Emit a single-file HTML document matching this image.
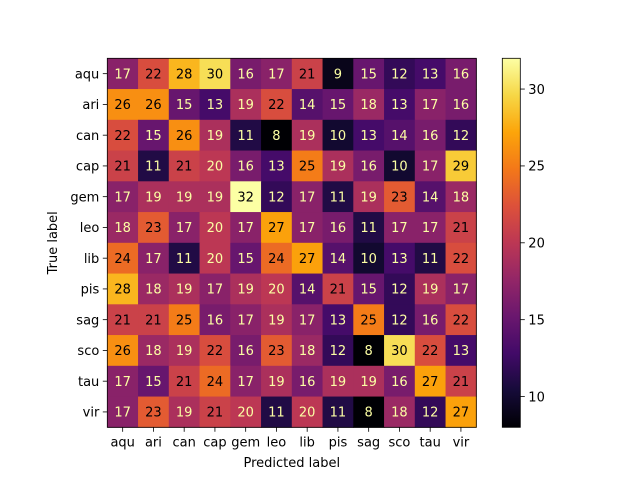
<!DOCTYPE html>
<html><head><meta charset="utf-8"><style>
body{margin:0;background:#fff;}
svg{display:block;font-family:"DejaVu Sans","Liberation Sans",sans-serif;}
</style></head><body>
<svg id="chart" width="640" height="480" xmlns="http://www.w3.org/2000/svg">
<defs><linearGradient id="cbg" x1="0" y1="1" x2="0" y2="0"></linearGradient></defs>
</svg>
<script>
const labels=["aqu","ari","can","cap","gem","leo","lib","pis","sag","sco","tau","vir"];
const values=[
[17,22,28,30,16,17,21,9,15,12,13,16],
[26,26,15,13,19,22,14,15,18,13,17,16],
[22,15,26,19,11,8,19,10,13,14,16,12],
[21,11,21,20,16,13,25,19,16,10,17,29],
[17,19,19,19,32,12,17,11,19,23,14,18],
[18,23,17,20,17,27,17,16,11,17,17,21],
[24,17,11,20,15,24,27,14,10,13,11,22],
[28,18,19,17,19,20,14,21,15,12,19,17],
[21,21,25,16,17,19,17,13,25,12,16,22],
[26,18,19,22,16,23,18,12,8,30,22,13],
[17,15,21,24,17,19,16,19,19,16,27,21],
[17,23,19,21,20,11,20,11,8,18,12,27]];
const cbTicks=[10,15,20,25,30];
const stops=["#000004","#160b39","#420a68","#6a176e","#932667","#bc3754","#dd513a","#f37819","#fca50a","#f6d746","#fcffa4"];
const NS="http://www.w3.org/2000/svg";
const svg=document.getElementById('chart');
function hex(h){return [1,3,5].map(i=>parseInt(h.substr(i,2),16));}
function cmap(t){t=Math.max(0,Math.min(1,t));const f=t*10,i=Math.min(9,Math.floor(f)),r=f-i;
const a=hex(stops[i]),b=hex(stops[i+1]);return `rgb(${a.map((v,k)=>Math.round(v+(b[k]-v)*r)).join(',')})`;}
const flat=values.flat(),vmin=Math.min(...flat),vmax=Math.max(...flat);
const X0=107.3,Y0=58.3,C=30.75,N=labels.length;
const xs=i=>X0+i*C, ys=i=>Y0+i*C;
function el(tag,attrs,parent){const e=document.createElementNS(NS,tag);for(const k in attrs)e.setAttribute(k,attrs[k]);(parent||svg).appendChild(e);return e;}
const g=el('g',{});


const thresh=(vmin+vmax)/2;
values.forEach((row,r)=>row.forEach((v,c)=>{
 const rc=el('rect',{x:xs(c),y:ys(r),width:C+0.5,height:C+0.5,fill:cmap((v-vmin)/(vmax-vmin))},g);
 
 
 const t=el('text',{x:xs(c)+C/2,y:ys(r)+C/2+4.7,'text-anchor':'middle','font-size':'13',fill:v>thresh?'#000004':'#fcffa4'},g);
 t.textContent=v;
 
 
}));
el('rect',{x:X0,y:Y0,width:C*N,height:C*N,fill:'none',stroke:'#000','stroke-width':0.8});
labels.forEach((l,i)=>{
 el('line',{x1:xs(i)+C/2,x2:xs(i)+C/2,y1:Y0+C*N,y2:Y0+C*N+4.5,stroke:'#000','stroke-width':0.8});
 const t=el('text',{x:xs(i)+C/2,y:Y0+C*N+19,'text-anchor':'middle','font-size':'13'});t.textContent=l;
 
 
 el('line',{x1:X0-4.5,x2:X0,y1:ys(i)+C/2,y2:ys(i)+C/2,stroke:'#000','stroke-width':0.8});
 const t2=el('text',{x:X0-8,y:ys(i)+C/2+4.7,'text-anchor':'end','font-size':'13'});t2.textContent=l;
 
 
});
const xt=el('text',{x:X0+C*N/2,y:467,'text-anchor':'middle','font-size':'13'});xt.textContent='Predicted label';


const yt=el('text',{x:0,y:0,'text-anchor':'middle','font-size':'13',transform:`translate(57,${Y0+C*N/2}) rotate(-90)`});yt.textContent='True label';


const grad=document.getElementById('cbg');
stops.forEach((s,i)=>el('stop',{offset:(i*10)+'%','stop-color':s},grad));
const CX=502.3,CW=18,CT=Y0,CB=Y0+C*N;
const cy=v=>CB-(v-vmin)/(vmax-vmin)*(CB-CT);
const cb=el('rect',{x:CX,y:CT,width:CW,height:CB-CT,fill:'url(#cbg)',stroke:'#000','stroke-width':0.8});


cbTicks.forEach(v=>{
 el('line',{x1:CX+CW,x2:CX+CW+4.5,y1:cy(v),y2:cy(v),stroke:'#000','stroke-width':0.8});
 const t=el('text',{x:CX+CW+8,y:cy(v)+4.7,'font-size':'13'});t.textContent=v;
 
 
});
</script>
</body></html>
